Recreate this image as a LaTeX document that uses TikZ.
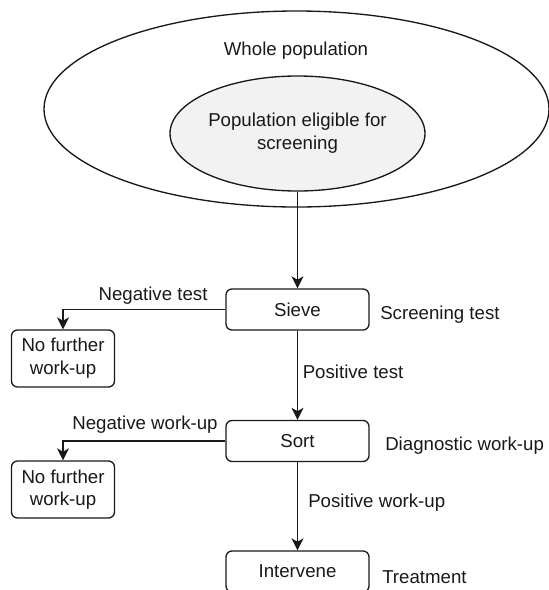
\documentclass[tikz,border=0pt]{standalone}
\usepackage{fontspec}
\setmainfont{Liberation Sans}
\usetikzlibrary{arrows.meta,shapes.geometric}
\begin{document}
\begin{tikzpicture}[x=0.75pt,y=-0.75pt,
  every node/.style={font=\fontsize{14pt}{17pt}\selectfont, text=black!90},
  line/.style={draw=black!90, line width=1pt},
  arr/.style={line, -{Stealth[length=9pt,width=9pt,inset=2.5pt]}},
  stepbox/.style={draw=black!90, line width=1pt, rounded corners=4.5pt, minimum width=107.25pt, minimum height=30.75pt, inner sep=0pt, fill=white},
  endbox/.style={draw=black!90, line width=1pt, rounded corners=4.5pt, minimum width=77.25pt, minimum height=42.75pt, inner sep=0pt, align=center, fill=white},
  lab/.style={inner sep=0pt, anchor=west}
]
\useasboundingbox (0,0) rectangle (549,590);
\node[ellipse, draw=black!90, line width=1pt, minimum width=378.75pt, minimum height=147pt, inner sep=0pt] (outer) at (296.5,109) {};
\node[inner sep=0pt] (wholetxt) at (296,51) {Whole population};
\node[ellipse, draw=black!90, line width=1pt, fill=black!5, minimum width=191.25pt, minimum height=86.25pt, inner sep=0pt, align=center] (inner) at (297.5,133.5) {Population eligible for\\screening};
\node[stepbox] (sieve) at (297.5,309.5) {Sieve};
\node[endbox] (nf1) at (63,358.5) {No further\\work-up};
\node[stepbox] (sort) at (297.5,441) {Sort};
\node[endbox] (nf2) at (63,489.5) {No further\\work-up};
\node[stepbox] (interv) at (297.5,571.5) {Intervene};

\draw[arr] (inner.south) -- (sieve.north);
\draw[arr] (sieve.west) -| (nf1.north);
\draw[arr] (sieve.south) -- (sort.north);
\draw[arr] (sort.west) -| (nf2.north);
\draw[arr] (sort.south) -- (interv.north);

\node[inner sep=0pt] (negtest) at (153,296) {Negative test};
\node[inner sep=0pt] (negwork) at (145,425) {Negative work-up};
\node[lab] (scrtest) at (380,315) {Screening test};
\node[lab] (postest) at (302.5,372) {Positive test};
\node[lab] (diag) at (385,446) {Diagnostic work-up};
\node[lab] (poswork) at (308,503) {Positive work-up};
\node[lab] (treat) at (382,577) {Treatment};
\end{tikzpicture}
\end{document}
